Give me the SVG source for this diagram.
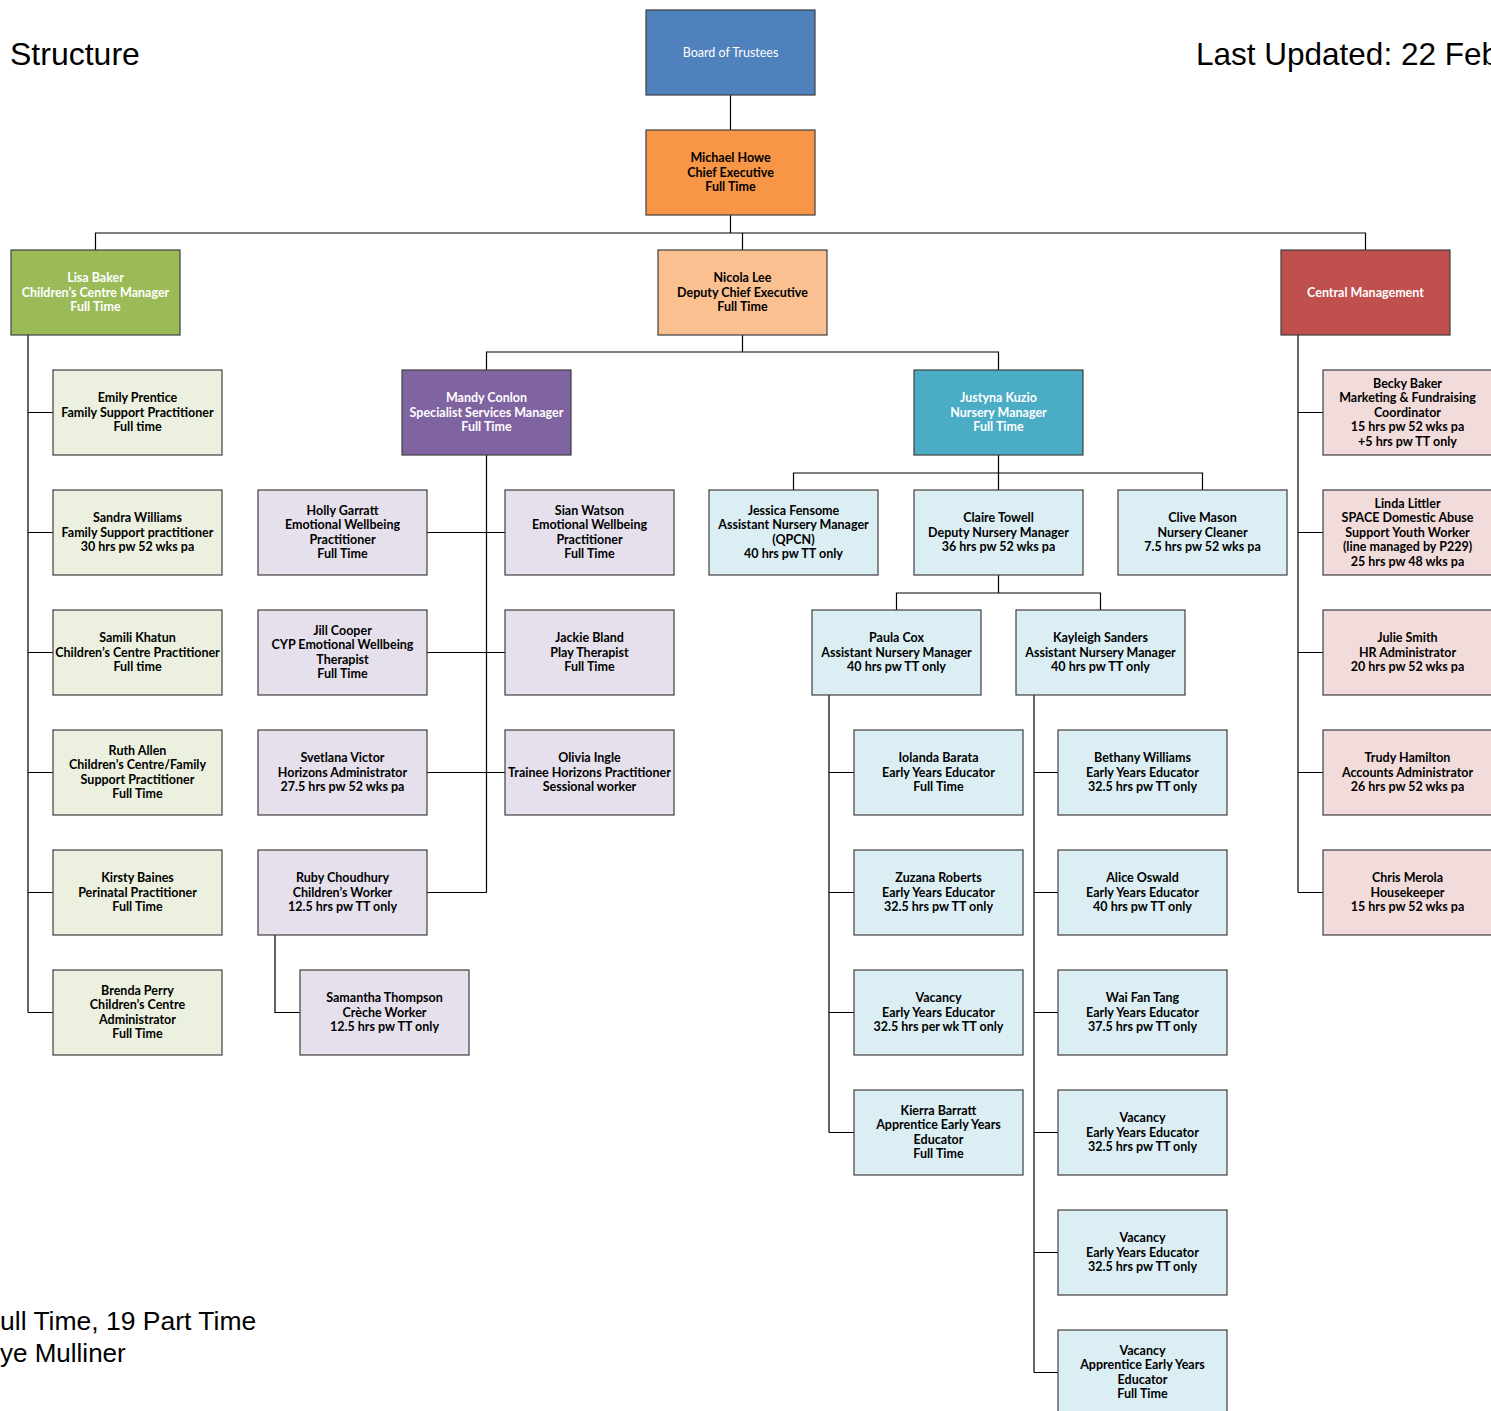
<svg xmlns="http://www.w3.org/2000/svg" width="1491" height="1411" viewBox="0 0 1491 1411">
<style>
.b{stroke:#3f3f3f;stroke-width:1.2}
.t{font-family:Lato,"Liberation Sans",sans-serif;font-size:12.5px;font-weight:bold;text-anchor:middle;fill:#000}
.w{fill:#fff}
.blue{fill:#4f81bd}.orange{fill:#f79646}.green{fill:#9bbb59}.peach{fill:#fac090}.red{fill:#c0504d}.purple{fill:#8064a2}.teal{fill:#4bacc6}
.lg{fill:#ebf1de}.lp{fill:#e5e0ec}.lb{fill:#dbeef4}.lr{fill:#f2dcdb}
.c{fill:none;stroke:#000;stroke-width:1.2}
.h{font-family:"Liberation Sans",Arial,sans-serif;fill:#000}
</style>
<rect width="1491" height="1411" fill="#fff"/>
<text class="h" x="10" y="65" font-size="32">Structure</text>
<text class="h" x="1196" y="65" font-size="31.5">Last Updated: 22 Feb</text>
<text class="h" x="0" y="1330" font-size="26.5">ull Time, 19 Part Time</text>
<text class="h" x="0" y="1362" font-size="26">ye Mulliner</text>
<g id="connectors">
<path class="c" d="M730.5 95V130M730.5 215V233M95.5 250V233H1365.5V250M742.5 233V250"/>
<path class="c" d="M28 335V1012.5M28 412.5H53M28 532.5H53M28 652.5H53M28 772.5H53M28 892.5H53M28 1012.5H53"/>
<path class="c" d="M742.5 335V352M486.5 370V352H998.5V370"/>
<path class="c" d="M486.5 455V892.5M427 532.5H505M427 652.5H505M427 772.5H505M427 892.5H486.5M275 935V1012.5H300"/>
<path class="c" d="M998.5 455V490M793.5 490V473H1202.5V490M998.5 575V593M896.5 610V593H1100.5V610"/>
<path class="c" d="M829 695V1132.5M829 772.5H854M829 892.5H854M829 1012.5H854M829 1132.5H854"/>
<path class="c" d="M1034 695V1372.5M1034 772.5H1058M1034 892.5H1058M1034 1012.5H1058M1034 1132.5H1058M1034 1252.5H1058M1034 1372.5H1058"/>
<path class="c" d="M1298 335V892.5M1298 412.5H1323M1298 532.5H1323M1298 652.5H1323M1298 772.5H1323M1298 892.5H1323"/>
</g>
<g id="board"><rect class="b blue" x="646" y="10" width="169" height="85"/><text class="t w" x="730.5" y="56.5" style="font-weight:normal">Board of Trustees</text></g>
<g id="ceo"><rect class="b orange" x="646" y="130" width="169" height="85"/><text class="t" x="730.5" y="162"><tspan x="730.5">Michael Howe</tspan><tspan x="730.5" dy="14.5">Chief Executive</tspan><tspan x="730.5" dy="14.5">Full Time</tspan></text></g>
<g id="lisa"><rect class="b green" x="11" y="250" width="169" height="85"/><text class="t w" y="282"><tspan x="95.5">Lisa Baker</tspan><tspan x="95.5" dy="14.5">Children’s Centre Manager</tspan><tspan x="95.5" dy="14.5">Full Time</tspan></text></g>
<g id="nicola"><rect class="b peach" x="658" y="250" width="169" height="85"/><text class="t" y="282"><tspan x="742.5">Nicola Lee</tspan><tspan x="742.5" dy="14.5">Deputy Chief Executive</tspan><tspan x="742.5" dy="14.5">Full Time</tspan></text></g>
<g id="central"><rect class="b red" x="1281" y="250" width="169" height="85"/><text class="t w" x="1365.5" y="296.5">Central Management</text></g>

<g id="emily"><rect class="b lg" x="53" y="370" width="169" height="85"/><text class="t" y="402"><tspan x="137.5">Emily Prentice</tspan><tspan x="137.5" dy="14.5">Family Support Practitioner</tspan><tspan x="137.5" dy="14.5">Full time</tspan></text></g>
<g id="sandra"><rect class="b lg" x="53" y="490" width="169" height="85"/><text class="t" y="522"><tspan x="137.5">Sandra Williams</tspan><tspan x="137.5" dy="14.5">Family Support practitioner</tspan><tspan x="137.5" dy="14.5">30 hrs pw 52 wks pa</tspan></text></g>
<g id="samili"><rect class="b lg" x="53" y="610" width="169" height="85"/><text class="t" y="642"><tspan x="137.5">Samili Khatun</tspan><tspan x="137.5" dy="14.5">Children’s Centre Practitioner</tspan><tspan x="137.5" dy="14.5">Full time</tspan></text></g>
<g id="ruth"><rect class="b lg" x="53" y="730" width="169" height="85"/><text class="t" y="754.75"><tspan x="137.5">Ruth Allen</tspan><tspan x="137.5" dy="14.5">Children’s Centre/Family</tspan><tspan x="137.5" dy="14.5">Support Practitioner</tspan><tspan x="137.5" dy="14.5">Full Time</tspan></text></g>
<g id="kirsty"><rect class="b lg" x="53" y="850" width="169" height="85"/><text class="t" y="882"><tspan x="137.5">Kirsty Baines</tspan><tspan x="137.5" dy="14.5">Perinatal Practitioner</tspan><tspan x="137.5" dy="14.5">Full Time</tspan></text></g>
<g id="brenda"><rect class="b lg" x="53" y="970" width="169" height="85"/><text class="t" y="994.75"><tspan x="137.5">Brenda Perry</tspan><tspan x="137.5" dy="14.5">Children’s Centre</tspan><tspan x="137.5" dy="14.5">Administrator</tspan><tspan x="137.5" dy="14.5">Full Time</tspan></text></g>

<g id="mandy"><rect class="b purple" x="402" y="370" width="169" height="85"/><text class="t w" y="402"><tspan x="486.5">Mandy Conlon</tspan><tspan x="486.5" dy="14.5">Specialist Services Manager</tspan><tspan x="486.5" dy="14.5">Full Time</tspan></text></g>
<g id="holly"><rect class="b lp" x="258" y="490" width="169" height="85"/><text class="t" y="514.75"><tspan x="342.5">Holly Garratt</tspan><tspan x="342.5" dy="14.5">Emotional Wellbeing</tspan><tspan x="342.5" dy="14.5">Practitioner</tspan><tspan x="342.5" dy="14.5">Full Time</tspan></text></g>
<g id="jill"><rect class="b lp" x="258" y="610" width="169" height="85"/><text class="t" y="634.75"><tspan x="342.5">Jill Cooper</tspan><tspan x="342.5" dy="14.5">CYP Emotional Wellbeing</tspan><tspan x="342.5" dy="14.5">Therapist</tspan><tspan x="342.5" dy="14.5">Full Time</tspan></text></g>
<g id="svetlana"><rect class="b lp" x="258" y="730" width="169" height="85"/><text class="t" y="762"><tspan x="342.5">Svetlana Victor</tspan><tspan x="342.5" dy="14.5">Horizons Administrator</tspan><tspan x="342.5" dy="14.5">27.5 hrs pw 52 wks pa</tspan></text></g>
<g id="ruby"><rect class="b lp" x="258" y="850" width="169" height="85"/><text class="t" y="882"><tspan x="342.5">Ruby Choudhury</tspan><tspan x="342.5" dy="14.5">Children’s Worker</tspan><tspan x="342.5" dy="14.5">12.5 hrs pw TT only</tspan></text></g>
<g id="samantha"><rect class="b lp" x="300" y="970" width="169" height="85"/><text class="t" y="1002"><tspan x="384.5">Samantha Thompson</tspan><tspan x="384.5" dy="14.5">Crèche Worker</tspan><tspan x="384.5" dy="14.5">12.5 hrs pw TT only</tspan></text></g>
<g id="sian"><rect class="b lp" x="505" y="490" width="169" height="85"/><text class="t" y="514.75"><tspan x="589.5">Sian Watson</tspan><tspan x="589.5" dy="14.5">Emotional Wellbeing</tspan><tspan x="589.5" dy="14.5">Practitioner</tspan><tspan x="589.5" dy="14.5">Full Time</tspan></text></g>
<g id="jackie"><rect class="b lp" x="505" y="610" width="169" height="85"/><text class="t" y="642"><tspan x="589.5">Jackie Bland</tspan><tspan x="589.5" dy="14.5">Play Therapist</tspan><tspan x="589.5" dy="14.5">Full Time</tspan></text></g>
<g id="olivia"><rect class="b lp" x="505" y="730" width="169" height="85"/><text class="t" y="762"><tspan x="589.5">Olivia Ingle</tspan><tspan x="589.5" dy="14.5">Trainee Horizons Practitioner</tspan><tspan x="589.5" dy="14.5">Sessional worker</tspan></text></g>

<g id="justyna"><rect class="b teal" x="914" y="370" width="169" height="85"/><text class="t w" y="402"><tspan x="998.5">Justyna Kuzio</tspan><tspan x="998.5" dy="14.5">Nursery Manager</tspan><tspan x="998.5" dy="14.5">Full Time</tspan></text></g>
<g id="jessica"><rect class="b lb" x="709" y="490" width="169" height="85"/><text class="t" y="514.75"><tspan x="793.5">Jessica Fensome</tspan><tspan x="793.5" dy="14.5">Assistant Nursery Manager</tspan><tspan x="793.5" dy="14.5">(QPCN)</tspan><tspan x="793.5" dy="14.5">40 hrs pw TT only</tspan></text></g>
<g id="claire"><rect class="b lb" x="914" y="490" width="169" height="85"/><text class="t" y="522"><tspan x="998.5">Claire Towell</tspan><tspan x="998.5" dy="14.5">Deputy Nursery Manager</tspan><tspan x="998.5" dy="14.5">36 hrs pw 52 wks pa</tspan></text></g>
<g id="clive"><rect class="b lb" x="1118" y="490" width="169" height="85"/><text class="t" y="522"><tspan x="1202.5">Clive Mason</tspan><tspan x="1202.5" dy="14.5">Nursery Cleaner</tspan><tspan x="1202.5" dy="14.5">7.5 hrs pw 52 wks pa</tspan></text></g>
<g id="paula"><rect class="b lb" x="812" y="610" width="169" height="85"/><text class="t" y="642"><tspan x="896.5">Paula Cox</tspan><tspan x="896.5" dy="14.5">Assistant Nursery Manager</tspan><tspan x="896.5" dy="14.5">40 hrs pw TT only</tspan></text></g>
<g id="kayleigh"><rect class="b lb" x="1016" y="610" width="169" height="85"/><text class="t" y="642"><tspan x="1100.5">Kayleigh Sanders</tspan><tspan x="1100.5" dy="14.5">Assistant Nursery Manager</tspan><tspan x="1100.5" dy="14.5">40 hrs pw TT only</tspan></text></g>

<g id="iolanda"><rect class="b lb" x="854" y="730" width="169" height="85"/><text class="t" y="762"><tspan x="938.5">Iolanda Barata</tspan><tspan x="938.5" dy="14.5">Early Years Educator</tspan><tspan x="938.5" dy="14.5">Full Time</tspan></text></g>
<g id="zuzana"><rect class="b lb" x="854" y="850" width="169" height="85"/><text class="t" y="882"><tspan x="938.5">Zuzana Roberts</tspan><tspan x="938.5" dy="14.5">Early Years Educator</tspan><tspan x="938.5" dy="14.5">32.5 hrs pw TT only</tspan></text></g>
<g id="vacancy1"><rect class="b lb" x="854" y="970" width="169" height="85"/><text class="t" y="1002"><tspan x="938.5">Vacancy</tspan><tspan x="938.5" dy="14.5">Early Years Educator</tspan><tspan x="938.5" dy="14.5">32.5 hrs per wk TT only</tspan></text></g>
<g id="kierra"><rect class="b lb" x="854" y="1090" width="169" height="85"/><text class="t" y="1114.75"><tspan x="938.5">Kierra Barratt</tspan><tspan x="938.5" dy="14.5">Apprentice Early Years</tspan><tspan x="938.5" dy="14.5">Educator</tspan><tspan x="938.5" dy="14.5">Full Time</tspan></text></g>

<g id="bethany"><rect class="b lb" x="1058" y="730" width="169" height="85"/><text class="t" y="762"><tspan x="1142.5">Bethany Williams</tspan><tspan x="1142.5" dy="14.5">Early Years Educator</tspan><tspan x="1142.5" dy="14.5">32.5 hrs pw TT only</tspan></text></g>
<g id="alice"><rect class="b lb" x="1058" y="850" width="169" height="85"/><text class="t" y="882"><tspan x="1142.5">Alice Oswald</tspan><tspan x="1142.5" dy="14.5">Early Years Educator</tspan><tspan x="1142.5" dy="14.5">40 hrs pw TT only</tspan></text></g>
<g id="waifan"><rect class="b lb" x="1058" y="970" width="169" height="85"/><text class="t" y="1002"><tspan x="1142.5">Wai Fan Tang</tspan><tspan x="1142.5" dy="14.5">Early Years Educator</tspan><tspan x="1142.5" dy="14.5">37.5 hrs pw TT only</tspan></text></g>
<g id="vacancy2"><rect class="b lb" x="1058" y="1090" width="169" height="85"/><text class="t" y="1122"><tspan x="1142.5">Vacancy</tspan><tspan x="1142.5" dy="14.5">Early Years Educator</tspan><tspan x="1142.5" dy="14.5">32.5 hrs pw TT only</tspan></text></g>
<g id="vacancy3"><rect class="b lb" x="1058" y="1210" width="169" height="85"/><text class="t" y="1242"><tspan x="1142.5">Vacancy</tspan><tspan x="1142.5" dy="14.5">Early Years Educator</tspan><tspan x="1142.5" dy="14.5">32.5 hrs pw TT only</tspan></text></g>
<g id="vacancy4"><rect class="b lb" x="1058" y="1330" width="169" height="85"/><text class="t" y="1354.75"><tspan x="1142.5">Vacancy</tspan><tspan x="1142.5" dy="14.5">Apprentice Early Years</tspan><tspan x="1142.5" dy="14.5">Educator</tspan><tspan x="1142.5" dy="14.5">Full Time</tspan></text></g>

<g id="becky"><rect class="b lr" x="1323" y="370" width="169" height="85"/><text class="t" y="387.5"><tspan x="1407.5">Becky Baker</tspan><tspan x="1407.5" dy="14.5">Marketing &amp; Fundraising</tspan><tspan x="1407.5" dy="14.5">Coordinator</tspan><tspan x="1407.5" dy="14.5">15 hrs pw 52 wks pa</tspan><tspan x="1407.5" dy="14.5">+5 hrs pw TT only</tspan></text></g>
<g id="linda"><rect class="b lr" x="1323" y="490" width="169" height="85"/><text class="t" y="507.5"><tspan x="1407.5">Linda Littler</tspan><tspan x="1407.5" dy="14.5">SPACE Domestic Abuse</tspan><tspan x="1407.5" dy="14.5">Support Youth Worker</tspan><tspan x="1407.5" dy="14.5">(line managed by P229)</tspan><tspan x="1407.5" dy="14.5">25 hrs pw 48 wks pa</tspan></text></g>
<g id="julie"><rect class="b lr" x="1323" y="610" width="169" height="85"/><text class="t" y="642"><tspan x="1407.5">Julie Smith</tspan><tspan x="1407.5" dy="14.5">HR Administrator</tspan><tspan x="1407.5" dy="14.5">20 hrs pw 52 wks pa</tspan></text></g>
<g id="trudy"><rect class="b lr" x="1323" y="730" width="169" height="85"/><text class="t" y="762"><tspan x="1407.5">Trudy Hamilton</tspan><tspan x="1407.5" dy="14.5">Accounts Administrator</tspan><tspan x="1407.5" dy="14.5">26 hrs pw 52 wks pa</tspan></text></g>
<g id="chris"><rect class="b lr" x="1323" y="850" width="169" height="85"/><text class="t" y="882"><tspan x="1407.5">Chris Merola</tspan><tspan x="1407.5" dy="14.5">Housekeeper</tspan><tspan x="1407.5" dy="14.5">15 hrs pw 52 wks pa</tspan></text></g>
</svg>
